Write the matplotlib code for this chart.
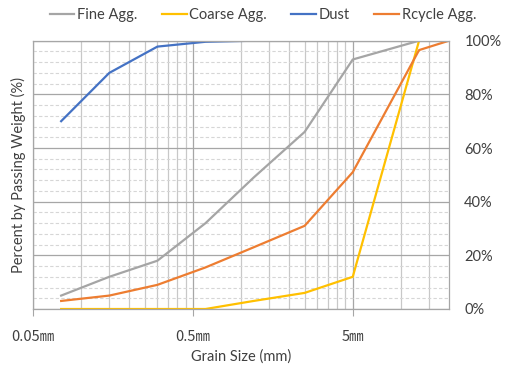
import numpy as np
import matplotlib.pyplot as plt
from matplotlib.ticker import FixedLocator, NullFormatter, FuncFormatter

# sieve sizes (mm)
sieve = [0.075, 0.15, 0.3, 0.6, 1.2, 2.5, 5, 13, 20]

fine_agg = [5, 12, 18, 32, 49, 66, 93, 100, 100]
coarse_agg = [0, 0, 0, 0, 3, 6, 12, 100, 100]
dust = [70, 88, 97.8, 99.6, 100, 100, 100, 100, 100]
rcycle_agg = [3, 5, 9, 15.5, 23, 31, 51, 96.5, 100]

x_ticks = [0.05, 0.5, 5]
x_ticklabels = ['0.05㎜', '0.5㎜', '5㎜']

txt = '#404040'
plt.rcParams['font.family'] = ['Lato', 'DejaVu Sans']

fig = plt.figure(figsize=(5.05, 3.65), dpi=100)
ax = fig.add_axes([33/505, 1-309/365, (449-33)/505, (309-40.7)/365])

ax.plot(sieve, fine_agg, color='#A5A5A5', lw=1.6, label='Fine Agg.')
ax.plot(sieve, coarse_agg, color='#FFC000', lw=1.6, label='Coarse Agg.')
ax.plot(sieve, dust, color='#4472C4', lw=1.6, label='Dust')
ax.plot(sieve, rcycle_agg, color='#ED7D31', lw=1.6, label='Rcycle Agg.')

ax.set_xscale('log')
ax.set_xlim(0.05, 20)
ax.set_ylim(0, 100)

# excel style minor grid: k * decade start
minors = [k * d for d in (0.05, 0.5, 5) for k in range(2, 10) if k * d < 20]
ax.xaxis.set_major_locator(FixedLocator(x_ticks))
ax.xaxis.set_minor_locator(FixedLocator(minors))
ax.xaxis.set_minor_formatter(NullFormatter())
ax.set_xticklabels(x_ticklabels, family=['Noto Sans CJK KR', 'DejaVu Sans'],
                   fontsize=10.5, color=txt)
ax.tick_params(axis='x', which='major', length=5, color='#A6A6A6', pad=10)
ax.tick_params(axis='x', which='minor', length=0)

ax.yaxis.set_major_locator(FixedLocator(np.arange(0, 101, 20)))
ax.yaxis.set_minor_locator(FixedLocator(np.arange(0, 101, 4)))
ax.yaxis.tick_right()
ax.yaxis.set_major_formatter(FuncFormatter(lambda v, p: f'{v:.0f}%'))
ax.tick_params(axis='y', which='both', length=0, pad=11, labelsize=10.5, labelcolor=txt)

ax.grid(True, axis='x', which='major', color='#A6A6A6', lw=0.9)
ax.grid(True, axis='x', which='minor', color='#C8C8C8', lw=0.9)
ax.grid(True, axis='y', which='major', color='#A6A6A6', lw=0.9)
ax.grid(True, axis='y', which='minor', color='#D6D6D6', lw=0.8, ls=(0, (3, 2)))
ax.set_axisbelow(True)

for s in ax.spines.values():
    s.set_color('#A6A6A6')
    s.set_linewidth(0.9)

ax.set_xlabel('Grain Size (mm)', fontsize=10.5, color=txt, labelpad=4)
fig.text(18/505, 1-175/365, 'Percent by Passing Weight (%)', rotation=90,
         ha='center', va='center', fontsize=10.5, color=txt)

fig.legend(loc='center', bbox_to_anchor=(263/505, 1-15/365), ncol=4, frameon=False,
           fontsize=10.5, handlelength=1.7, handletextpad=0.2, columnspacing=1.65,
           labelcolor=txt)

fig.savefig('out.png', dpi=100)
